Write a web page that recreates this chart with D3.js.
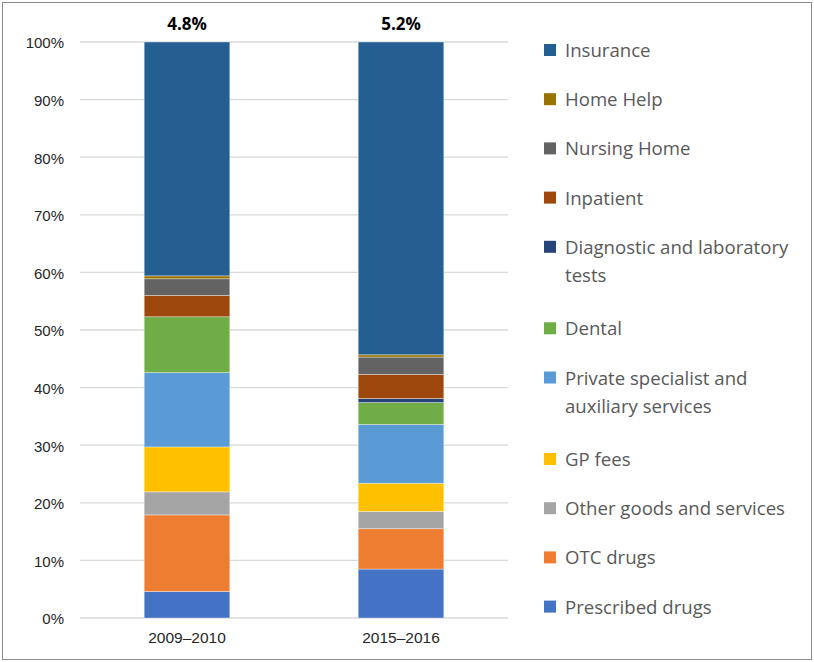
<!DOCTYPE html>
<html>
<head>
<meta charset="utf-8">
<script src="https://cdn.jsdelivr.net/npm/d3@7"></script>
<style>
  body { margin: 0; background: #fff; }
  svg { display: block; font-family: "Open Sans", "Noto Sans", sans-serif; }
</style>
</head>
<body>
<svg id="chart" width="814" height="662"></svg>
<script>
'use strict'

// ---- data (percent of out-of-pocket spend)
let periods = ['2009–2010', '2015–2016']
let totals = ['4.8%', '5.2%']

// stacked bottom -> top
let categories = ['Prescribed drugs', 'OTC drugs', 'Other goods and services', 'GP fees',
  'Private specialist and auxiliary services', 'Dental', 'Diagnostic and laboratory tests',
  'Inpatient', 'Nursing Home', 'Home Help', 'Insurance']

let prescribed = [4.6, 8.5]
let otc        = [13.3, 7.0]
let otherGoods = [4.0, 3.0]
let gpFees     = [7.8, 4.9]
let privateSpec= [12.9, 10.2]
let dental     = [9.7, 3.8]
let diagnostic = [0.0, 0.7]
let inpatient  = [3.7, 4.2]
let nursing    = [2.9, 3.0]
let homeHelp   = [0.5, 0.4]
let insurance  = [40.6, 54.3]

let yTicks = [0, 10, 20, 30, 40, 50, 60, 70, 80, 90, 100]

// legend order is top -> bottom, long names wrap
let legendLines = {
  'Insurance': ['Insurance'],
  'Home Help': ['Home Help'],
  'Nursing Home': ['Nursing Home'],
  'Inpatient': ['Inpatient'],
  'Diagnostic and laboratory tests': ['Diagnostic and laboratory', 'tests'],
  'Dental': ['Dental'],
  'Private specialist and auxiliary services': ['Private specialist and', 'auxiliary services'],
  'GP fees': ['GP fees'],
  'Other goods and services': ['Other goods and services'],
  'OTC drugs': ['OTC drugs'],
  'Prescribed drugs': ['Prescribed drugs']
}

let colors = {
  'Prescribed drugs': '#4472C4',
  'OTC drugs': '#ED7D31',
  'Other goods and services': '#A5A5A5',
  'GP fees': '#FFC000',
  'Private specialist and auxiliary services': '#5B9BD5',
  'Dental': '#70AD47',
  'Diagnostic and laboratory tests': '#264478',
  'Inpatient': '#9E480E',
  'Nursing Home': '#636363',
  'Home Help': '#997300',
  'Insurance': '#255E91'
}

let series = [prescribed, otc, otherGoods, gpFees, privateSpec, dental, diagnostic,
  inpatient, nursing, homeHelp, insurance]

let rows = periods.map((p, i) => {
  let r = { period: p }
  categories.forEach((c, k) => r[c] = series[k][i])
  return r
})

// --------------------------------------------------------------------
// ------------------------------------------------------ LAYOUT ------
let svg = d3.select('#chart')

svg.append('rect')
  .attr('x', 2.5).attr('y', 2.5)
  .attr('width', 809).attr('height', 657)
  .attr('fill', '#fff')
  .attr('stroke', '#8c8c8c')
  .attr('stroke-width', 1)

let x = d3.scaleBand()
  .domain(periods)
  .range([80, 508])
  .paddingInner(0.6)
  .paddingOuter(0.3)

let y = d3.scaleLinear()
  .domain([0, 100])
  .range([618, 42])

// grid
svg.append('g')
  .selectAll('line').data(yTicks)
  .join('line')
    .attr('x1', 80).attr('x2', 508)
    .attr('y1', d => y(d)).attr('y2', d => y(d))
    .attr('stroke', '#d9d9d9')
    .attr('stroke-width', 1.3)

// y axis labels
let yAxis = d3.axisLeft(y)
  .tickValues(yTicks)
  .tickFormat(d => d + '%')
  .tickSize(0)
  .tickPadding(16)

let yG = svg.append('g')
  .attr('transform', 'translate(80,1)')
  .call(yAxis)
yG.select('.domain').remove()
yG.selectAll('text')
  .attr('font-size', 15)
  .attr('fill', '#262626')
  .style('font-family', 'inherit')

// x axis labels
let xAxis = d3.axisBottom(x).tickSize(0).tickPadding(14)
let xG = svg.append('g')
  .attr('transform', 'translate(0,618)')
  .call(xAxis)
xG.select('.domain').remove()
xG.selectAll('text')
  .attr('font-size', 15.5)
  .attr('fill', '#262626')
  .style('font-family', 'inherit')

// --------------------------------------------------------------------
// ---------------------------------------------------- STACKED BARS --
let stacked = d3.stack().keys(categories)(rows)

let layers = svg.append('g')
  .selectAll('g').data(stacked)
  .join('g')
    .attr('fill', d => colors[d.key])

layers.selectAll('rect')
  .data(d => d.filter(s => s[1] - s[0] > 0))
  .join('rect')
    .attr('x', d => x(d.data.period))
    .attr('width', x.bandwidth())
    .attr('y', d => y(d[1]))
    .attr('height', d => y(d[0]) - y(d[1]))
    .attr('stroke', 'rgba(255,255,255,0.45)')
    .attr('stroke-width', 0.8)

// totals above bars
svg.append('g')
  .selectAll('text').data(periods)
  .join('text')
    .attr('x', d => x(d) + x.bandwidth() / 2)
    .attr('y', 30)
    .attr('text-anchor', 'middle')
    .attr('font-size', 17)
    .attr('font-weight', 'bold')
    .attr('fill', '#000')
    .text((d, i) => totals[i])

// --------------------------------------------------------------------
// ---------------------------------------------------------- LEGEND --
let legendOrder = categories.slice().reverse()
let legendY = []
let cy = 50
legendOrder.forEach(c => {
  legendY.push(cy)
  cy += legendLines[c].length > 1 ? 81.5 : 49.2
})

let leg = svg.append('g')
  .selectAll('g').data(legendOrder)
  .join('g')
    .attr('transform', (d, i) => 'translate(544,' + legendY[i] + ')')

leg.append('rect')
  .attr('x', 0).attr('y', -6)
  .attr('width', 12).attr('height', 12)
  .attr('fill', d => colors[d])

leg.each(function(d) {
  let t = d3.select(this).append('text')
    .attr('x', 21)
    .attr('y', 7)
    .attr('font-size', 18.6)
    .attr('fill', '#595959')
  legendLines[d].forEach((ln, j) => {
    t.append('tspan').attr('x', 21).attr('dy', j == 0 ? 0 : 28).text(ln)
  })
})
</script>
</body>
</html>
